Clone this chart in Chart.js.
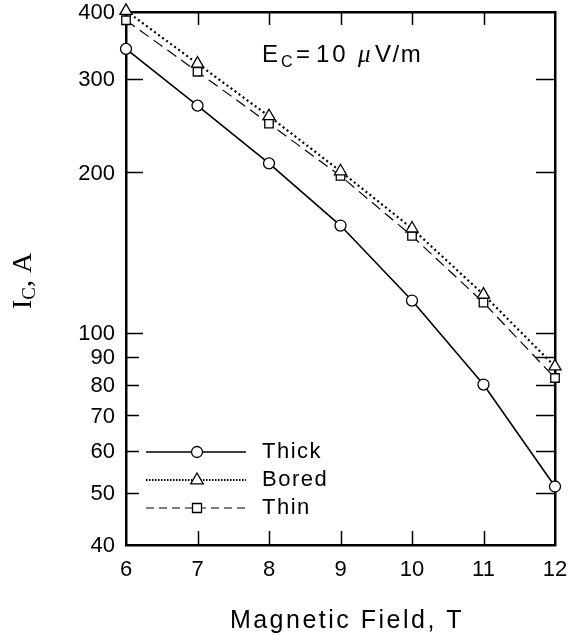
<!DOCTYPE html>
<html><head><meta charset="utf-8">
<script src="https://cdn.jsdelivr.net/npm/chart.js@4/dist/chart.umd.min.js"></script>
<style>html,body{margin:0;padding:0;background:#fff}#w{width:568px;height:643px}</style>
</head><body><div id="w"><canvas id="c"></canvas></div>
<script>
const fieldT = [6, 7, 8, 9, 10, 11, 12];
const thick = [341, 267, 208, 159, 115, 80, 51.5];
const bored = [402, 320, 255, 201, 157, 118, 86.5];
const thin  = [386, 309, 247, 197, 152, 114, 82.3];
const yTicks = [40, 50, 60, 70, 80, 90, 100, 200, 300, 400];
const yMajor = [100, 200, 300];
const xTicks = [6, 7, 8, 9, 10, 11, 12];
const seriesLabels = ['Thick', 'Bored', 'Thin'];

const SANS = '"Liberation Sans", Arial, Helvetica, sans-serif';
const SERIF = '"Liberation Serif", "Times New Roman", serif';

const extras = {
  id: 'extras',
  afterDraw(chart) {
    const ctx = chart.ctx, a = chart.chartArea;
    const xs = chart.scales.x, ys = chart.scales.y;
    ctx.save();
    ctx.strokeStyle = '#000'; ctx.lineWidth = 1.5;
    // inward ticks
    xTicks.forEach(v => {
      if (v === 6 || v === 12) return;
      const px = Math.round(xs.getPixelForValue(v)) + 0.5;
      ctx.beginPath(); ctx.moveTo(px, a.bottom); ctx.lineTo(px, a.bottom - 14);
      ctx.moveTo(px, a.top); ctx.lineTo(px, a.top + 13); ctx.stroke();
    });
    yTicks.forEach(v => {
      if (v === 40 || v === 400) return;
      const py = Math.round(ys.getPixelForValue(v)) + 0.5;
      const L = yMajor.includes(v) ? 17 : 13;
      ctx.beginPath(); ctx.moveTo(a.left, py); ctx.lineTo(a.left + L, py);
      ctx.moveTo(a.right, py); ctx.lineTo(a.right - 19, py); ctx.stroke();
    });
    // tick labels
    ctx.fillStyle = '#000';
    ctx.font = '22px ' + SANS;
    ctx.textAlign = 'center'; ctx.textBaseline = 'middle';
    xTicks.forEach(v => ctx.fillText(String(v), xs.getPixelForValue(v), 570));
    ctx.textAlign = 'right';
    yTicks.forEach(v => ctx.fillText(String(v), a.left - 11, ys.getPixelForValue(v) + 1));
    ctx.restore();

    // y title I_C, A (serif, rotated)
    ctx.save();
    ctx.fillStyle = '#000';
    ctx.translate(31, 281); ctx.rotate(-Math.PI / 2);
    ctx.textBaseline = 'alphabetic';
    ctx.font = '28px ' + SERIF; const w1 = ctx.measureText('I').width;
    ctx.font = '19px ' + SERIF; const w2 = ctx.measureText('C').width;
    ctx.font = '28px ' + SERIF; const w3 = ctx.measureText(', A').width;
    const x0 = -(w1 + w2 + w3) / 2;
    ctx.font = '28px ' + SERIF; ctx.fillText('I', x0, 0);
    ctx.font = '19px ' + SERIF; ctx.fillText('C', x0 + w1, 4);
    ctx.font = '28px ' + SERIF; ctx.fillText(', A', x0 + w1 + w2, 0);
    ctx.restore();

    // x title
    ctx.save();
    ctx.fillStyle = '#000'; ctx.textBaseline = 'alphabetic'; ctx.textAlign = 'left';
    ctx.font = '25px ' + SANS;
    ctx.letterSpacing = '2.5px';
    const xt = 'Magnetic Field, T';
    const wt = ctx.measureText(xt).width;
    ctx.fillText(xt, 347 - wt / 2, 628);
    ctx.restore();

    // annotation E_c = 10 μV/m
    ctx.save();
    ctx.fillStyle = '#000'; ctx.textBaseline = 'alphabetic';
    const base = 62;
    ctx.font = '24px ' + SANS; ctx.letterSpacing = '1px';
    ctx.fillText('E', 262, base);
    ctx.font = '16px ' + SANS; ctx.fillText('C', 281, base + 5);
    ctx.font = '24px ' + SANS; ctx.fillText('=', 296, base);
    ctx.letterSpacing = '3px'; ctx.fillText('10', 316, base);
    ctx.letterSpacing = '0px';
    ctx.font = 'italic 25px ' + SERIF; ctx.fillText('μ', 358, base);
    ctx.font = '24px ' + SANS; ctx.letterSpacing = '1.5px'; ctx.fillText('V/m', 375, base);
    ctx.restore();

    // legend
    ctx.save();
    const rows = [452, 480, 508];
    chart.data.datasets.forEach((ds, i) => {
      const y = rows[i];
      ctx.strokeStyle = '#000'; ctx.lineWidth = i === 1 ? 1.8 : ds.borderWidth;
      ctx.setLineDash(i === 1 ? [1.5, 1.5] : (i === 2 ? [8, 5] : []));
      ctx.beginPath(); ctx.moveTo(146, y); ctx.lineTo(246, y); ctx.stroke();
      ctx.setLineDash([]);
      ctx.lineWidth = 1.3; ctx.fillStyle = '#fff';
      const cx = 197, r = ds.pointRadius;
      ctx.beginPath();
      if (ds.pointStyle === 'circle') ctx.arc(cx, y, r, 0, Math.PI * 2);
      else if (ds.pointStyle === 'triangle') { ctx.moveTo(cx, y - r); ctx.lineTo(cx + r * 0.9, y + r * 0.55); ctx.lineTo(cx - r * 0.9, y + r * 0.55); ctx.closePath(); }
      else ctx.rect(cx - r * 0.75, y - r * 0.75, r * 1.5, r * 1.5);
      ctx.fill(); ctx.stroke();
      ctx.fillStyle = '#000'; ctx.font = '22px ' + SANS; ctx.textBaseline = 'middle';
      ctx.letterSpacing = '1.5px';
      ctx.fillText(ds.label, 262, y);
      ctx.letterSpacing = '0px';
    });
    ctx.restore();
  }
};

const mk = v => fieldT.map((x, i) => ({x, y: v[i]}));
const noTicks = { display: false };
new Chart(document.getElementById('c'), {
  type: 'line',
  data: { datasets: [
    { label: seriesLabels[0], data: mk(thick), borderColor: '#000', borderWidth: 1.6, pointStyle: 'circle', pointRadius: 5.5, pointBackgroundColor: '#fff', pointBorderColor: '#000', pointBorderWidth: 1.3 },
    { label: seriesLabels[1], data: mk(bored), borderColor: '#000', borderWidth: 2.2, borderDash: [2, 3], pointStyle: 'triangle', pointRadius: 7, pointBackgroundColor: '#fff', pointBorderColor: '#000', pointBorderWidth: 1.3 },
    { label: seriesLabels[2], data: mk(thin), borderColor: '#000', borderWidth: 1.2, borderDash: [11, 6], pointStyle: 'rect', pointRadius: 6, pointBackgroundColor: '#fff', pointBorderColor: '#000', pointBorderWidth: 1.3 }
  ]},
  options: {
    responsive: true, maintainAspectRatio: false, animation: false,
    clip: false,
    layout: { padding: { left: 0, right: 13, top: 12, bottom: 0 } },
    plugins: { legend: { display: false }, tooltip: { enabled: false } },
    elements: { line: { tension: 0 } },
    scales: {
      x: {
        type: 'linear', min: 6, max: 12,
        afterBuildTicks: s => { s.ticks = xTicks.map(v => ({value: v})); },
        afterFit: s => { s.height = 98; },
        grid: { display: false, drawTicks: false },
        border: { display: true, color: '#000', width: 2.5 },
        ticks: noTicks
      },
      y: {
        type: 'logarithmic', min: 40, max: 400,
        afterBuildTicks: s => { s.ticks = yTicks.map(v => ({value: v})); },
        afterFit: s => { s.width = 126; },
        grid: { display: false, drawTicks: false },
        border: { display: true, color: '#000', width: 2.5 },
        ticks: noTicks
      },
      x2: { type: 'linear', position: 'top', min: 6, max: 12, display: true, ticks: noTicks, grid: { display: false, drawTicks: false }, border: { display: true, color: '#000', width: 2.5 }, afterFit: s => { s.height = 0; } },
      y2: { type: 'logarithmic', position: 'right', min: 40, max: 400, display: true, ticks: noTicks, grid: { display: false, drawTicks: false }, border: { display: true, color: '#000', width: 2.5 }, afterFit: s => { s.width = 0; } }
    }
  },
  plugins: [extras]
});
</script>
</body></html>
